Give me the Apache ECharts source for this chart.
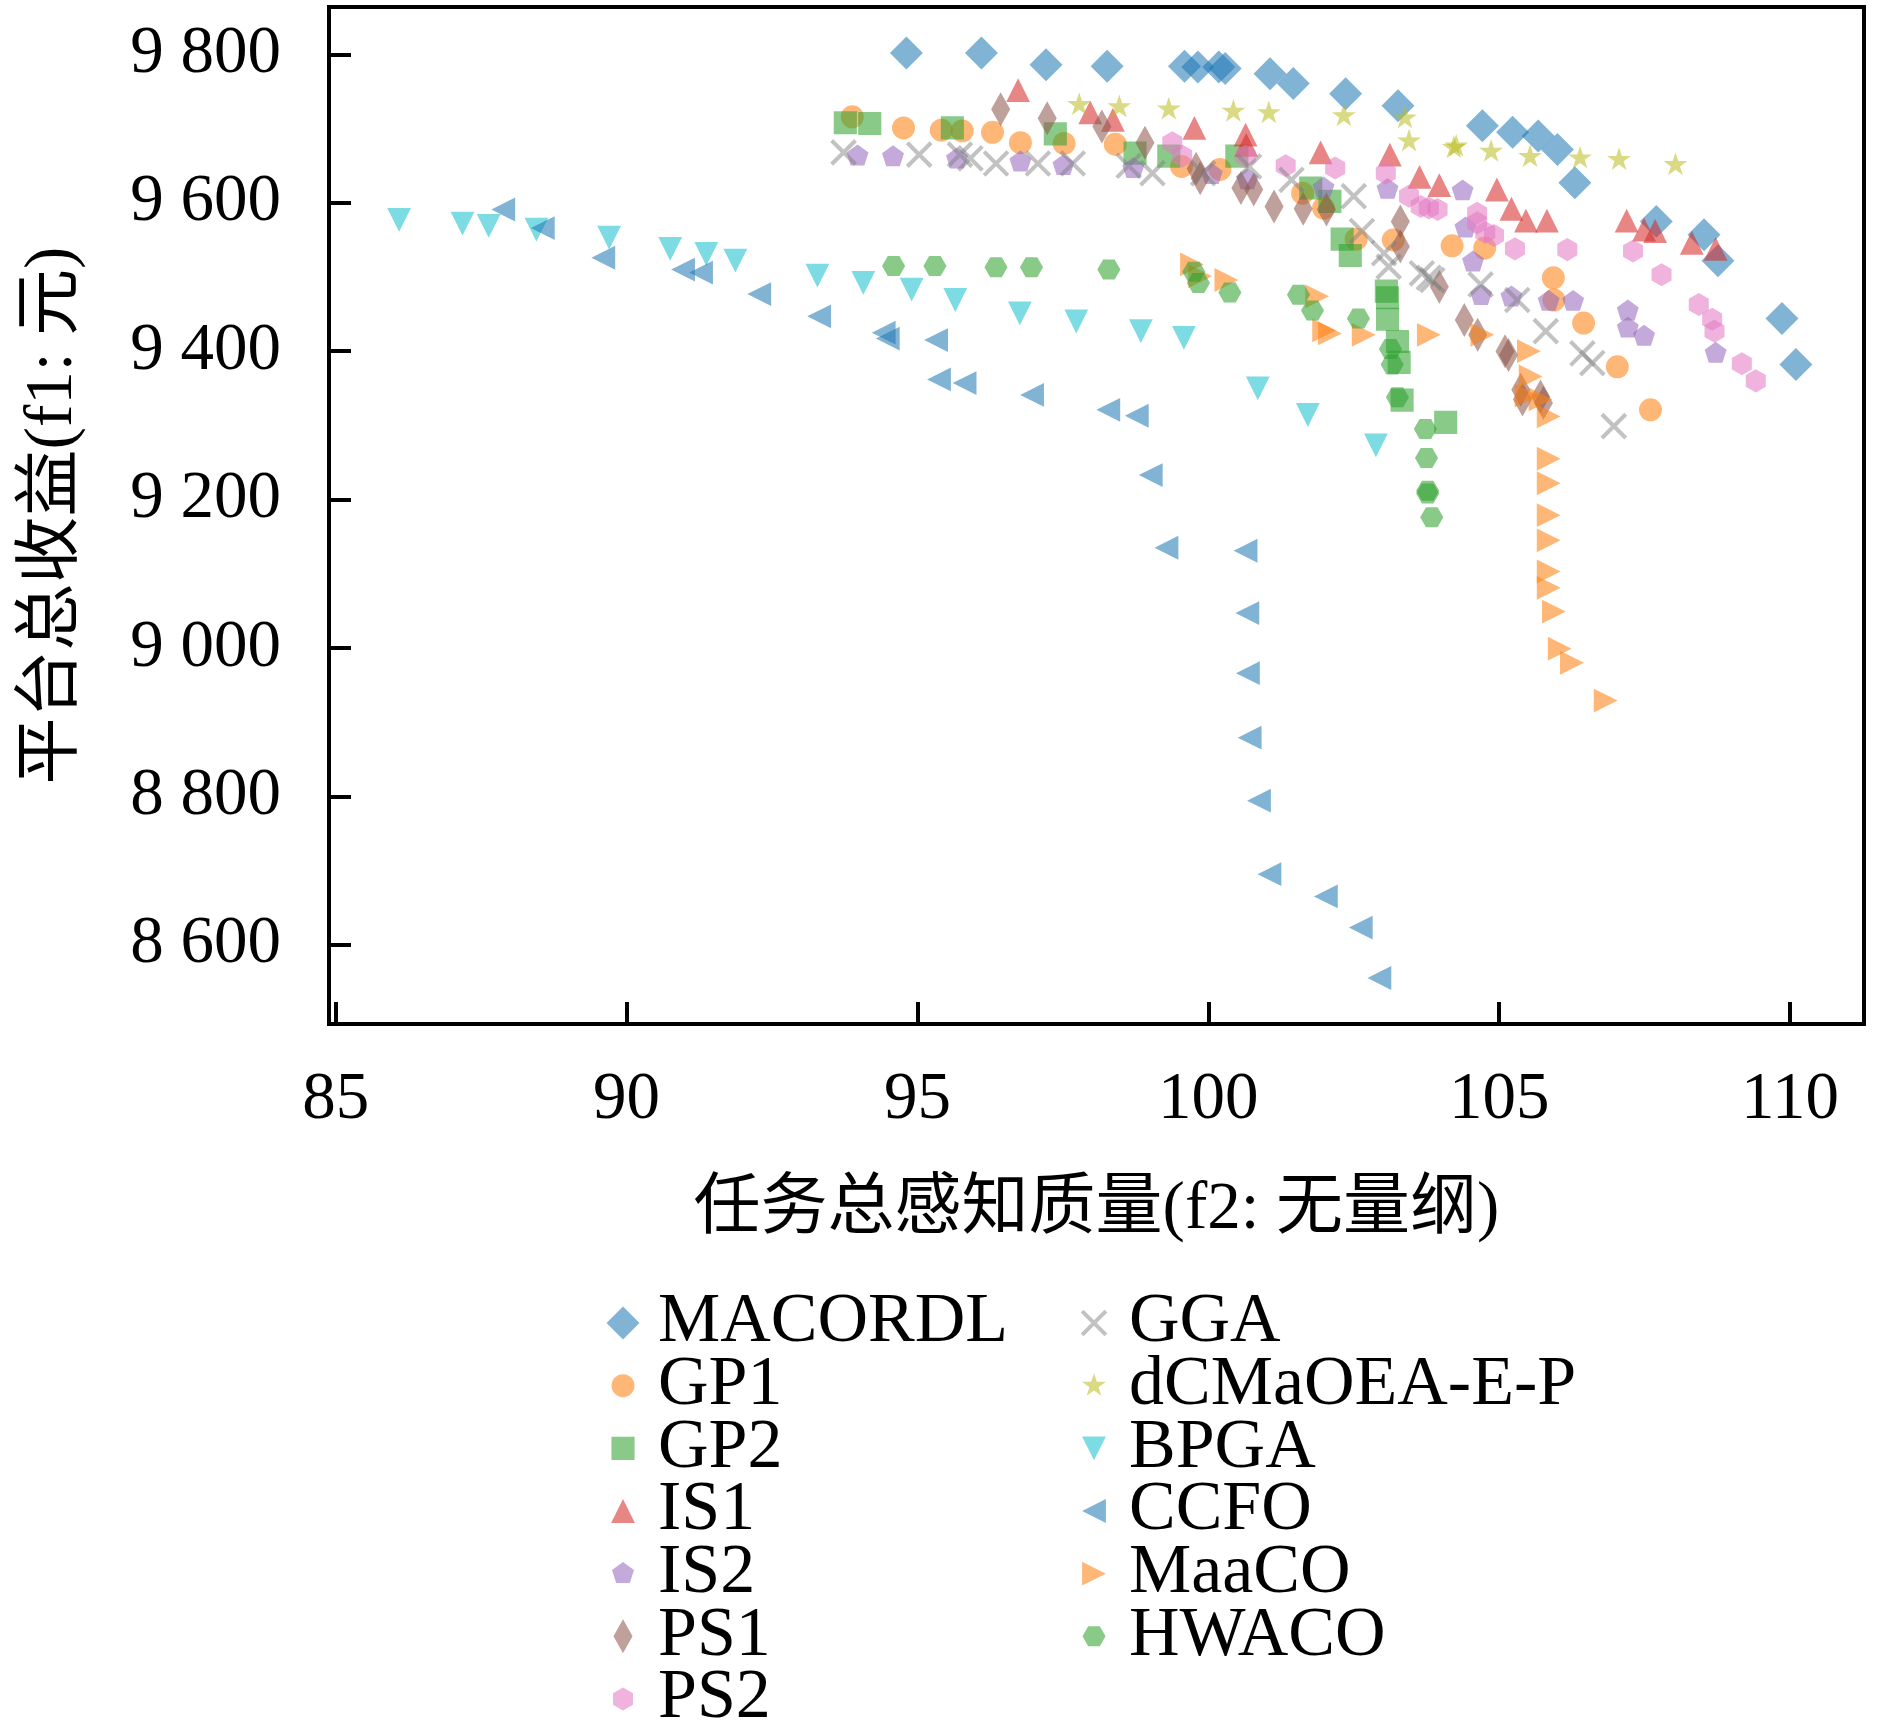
<!DOCTYPE html>
<html>
<head>
<meta charset="utf-8">
<script src="https://cdn.jsdelivr.net/npm/echarts@6/dist/echarts.min.js"></script>
<style>
  html, body { margin: 0; padding: 0; background: #fff; }
  #chart { width: 1890px; height: 1724px; }
</style>
</head>
<body>
<div id="chart"></div>
<script>
// tick values
const xTicks = [85, 90, 95, 100, 105, 110];
const yTicks = [8600, 8800, 9000, 9200, 9400, 9600, 9800];

// [f2, f1] per algorithm
const MACORDL = [[94.81,9802],[96.10,9802],[97.21,9786],[98.26,9784],[99.59,9784],[99.82,9783],[100.18,9783],[100.29,9781],[101.06,9774],[101.46,9761],[102.36,9747],[103.26,9731],[104.71,9704],[105.23,9695],[105.67,9690],[106.00,9672],[106.30,9627],[107.70,9575],[108.52,9557],[108.76,9522],[109.86,9444],[110.10,9382]];
const GP1 = [[93.88,9716],[94.76,9701],[95.41,9698],[95.77,9697],[96.29,9695],[96.77,9681],[97.52,9680],[98.40,9679],[99.54,9649],[100.20,9645],[101.62,9613],[101.98,9593],[102.54,9551],[103.18,9550],[104.19,9542],[104.75,9539],[105.93,9499],[105.94,9469],[106.45,9438],[107.03,9379],[107.60,9321]];
const GP2 = [[93.76,9708],[94.18,9707],[95.60,9701],[97.37,9693],[98.74,9667],[99.32,9663],[100.49,9663],[101.76,9620],[102.09,9602],[102.30,9551],[102.44,9529],[103.06,9481],[103.08,9472],[103.08,9443],[103.25,9413],[103.28,9385],[103.33,9334],[104.08,9304]];
const IS1 = [[96.73,9752],[97.97,9722],[98.36,9712],[99.76,9701],[100.64,9692],[100.65,9678],[101.93,9668],[103.12,9665],[103.63,9635],[103.97,9624],[104.96,9618],[105.21,9592],[105.46,9576],[105.82,9576],[107.19,9576],[107.49,9564],[107.68,9562],[108.31,9546],[108.72,9538]];
const IS2 = [[93.97,9663],[94.58,9662],[95.68,9659],[96.77,9655],[97.51,9650],[98.71,9646],[100.06,9638],[100.67,9631],[101.98,9620],[103.08,9618],[104.37,9616],[104.42,9566],[104.55,9520],[104.69,9475],[105.21,9473],[105.85,9467],[106.27,9467],[107.21,9454],[107.21,9431],[107.49,9420],[108.72,9397]];
const PS1 = [[96.43,9726],[97.23,9714],[98.17,9703],[98.91,9681],[99.79,9646],[99.86,9633],[100.56,9620],[100.78,9618],[101.13,9595],[101.63,9592],[102.03,9591],[103.30,9575],[103.30,9541],[103.97,9487],[104.40,9442],[104.63,9422],[105.10,9400],[105.16,9395],[105.37,9348],[105.40,9335],[105.71,9339],[105.76,9330]];
const PS2 = [[99.38,9681],[99.55,9663],[100.64,9663],[101.33,9650],[102.18,9647],[103.05,9640],[103.45,9609],[103.65,9595],[103.79,9593],[103.94,9591],[104.62,9586],[104.62,9573],[104.76,9560],[104.91,9556],[105.27,9538],[106.17,9537],[107.30,9535],[107.79,9503],[108.43,9463],[108.66,9443],[108.70,9427],[109.17,9383],[109.41,9360]];
const GGA = [[93.73,9668],[95.03,9665],[95.73,9665],[95.91,9660],[96.35,9653],[97.07,9653],[97.67,9653],[98.63,9650],[99.04,9640],[99.91,9640],[100.70,9649],[101.43,9631],[102.50,9609],[102.64,9562],[103.02,9532],[103.10,9514],[103.67,9505],[103.79,9499],[103.85,9496],[104.68,9490],[105.31,9469],[105.80,9427],[106.43,9397],[106.60,9384],[106.97,9299]];
const DCMAOEA = [[97.78,9732],[98.47,9729],[99.32,9726],[100.43,9723],[101.04,9721],[102.33,9717],[103.38,9714],[103.45,9683],[104.22,9674],[104.26,9676],[104.86,9669],[105.53,9662],[106.39,9660],[107.06,9658],[108.03,9651]];
const BPGA = [[86.09,9577],[87.18,9572],[87.63,9569],[88.45,9564],[89.70,9553],[90.75,9538],[91.37,9531],[91.87,9522],[93.28,9502],[94.07,9492],[94.90,9483],[95.65,9469],[96.76,9451],[97.73,9440],[98.84,9427],[99.58,9418],[100.85,9350],[101.71,9314],[102.88,9273]];
const CCFO = [[87.88,9591],[88.56,9566],[89.60,9526],[90.97,9510],[91.28,9506],[92.28,9477],[93.31,9447],[94.42,9425],[94.49,9417],[95.32,9415],[95.37,9362],[95.81,9357],[96.97,9341],[98.28,9321],[98.77,9313],[99.01,9233],[99.28,9135],[100.64,9131],[100.67,9047],[100.68,8966],[100.71,8879],[100.87,8794],[101.05,8695],[102.02,8665],[102.62,8623],[102.94,8555]];
const MaaCO = [[99.72,9517],[99.86,9501],[100.31,9496],[101.87,9474],[101.99,9428],[102.09,9424],[102.67,9422],[103.79,9422],[104.71,9422],[105.51,9400],[105.54,9366],[105.47,9340],[105.71,9335],[105.85,9312],[105.85,9255],[105.85,9222],[105.85,9179],[105.85,9145],[105.85,9103],[105.85,9081],[105.94,9049],[106.04,8999],[106.25,8980],[106.83,8929]];
const HWACO = [[94.59,9515],[95.30,9515],[96.35,9513],[96.96,9513],[98.29,9510],[99.75,9507],[99.83,9492],[100.37,9479],[101.55,9476],[101.79,9455],[102.58,9444],[103.13,9403],[103.16,9382],[103.25,9338],[103.73,9295],[103.75,9256],[103.77,9212],[103.77,9208],[103.84,9176]];

// marker outlines in a 100x100 box
function starBody() {
    let d = '';
    for (let k = 0; k < 10; k++) {
        const r = k % 2 ? 14.1 : 37;
        const a = (-90 + 36 * k) * Math.PI / 180;
        d += (k ? 'L' : 'M') + (50 + r * Math.cos(a)).toFixed(2) + ' ' + (50 + r * Math.sin(a)).toFixed(2);
    }
    return d + 'Z';
}
const shapes = {
    diamond: 'M50 1.5L98.5 50L50 98.5L1.5 50Z',
    circle: 'M16.2 50A33.8 33.8 0 1 1 83.8 50A33.8 33.8 0 1 1 16.2 50Z',
    square: 'M16 16L84 16L84 84L16 84Z',
    triUp: 'M50 15L85 85L15 85Z',
    pentagon: 'M50 16L82.3 39.5L70 77.5L30 77.5L17.7 39.5Z',
    thinDiamond: 'M50 0L78 50L50 100L22 50Z',
    hexPointy: 'M50 16L79.4 33L79.4 67L50 84L20.6 67L20.6 33Z',
    cross: 'M19.2 10.8L89.2 80.8L80.8 89.2L10.8 19.2Z M80.8 10.8L89.2 19.2L19.2 89.2L10.8 80.8Z',
    star: starBody(),
    triDown: 'M15 15L85 15L50 85Z',
    triLeft: 'M15 50L85 15L85 85Z',
    triRight: 'M85 50L15 15L15 85Z',
    hexFlat: 'M16 50L33 20.6L67 20.6L84 50L67 79.4L33 79.4Z'
};
// invisible anchors fix the box so every marker keeps its own size
function sym(body, w) {
    return 'path://' + body + ' M0 0L0.01 0L0.01 0.01Z M' + (w - 0.01) + ' 99.99L' + w + ' 99.99L' + w + ' 100Z';
}

const groups = [
    ['MACORDL', MACORDL, 'diamond', 'rgba(31,119,180,0.7)'],
    ['GP1', GP1, 'circle', 'rgba(255,127,14,0.7)'],
    ['GP2', GP2, 'square', 'rgba(44,160,44,0.7)'],
    ['IS1', IS1, 'triUp', 'rgba(214,39,40,0.7)'],
    ['IS2', IS2, 'pentagon', 'rgba(148,103,189,0.7)'],
    ['PS1', PS1, 'thinDiamond', 'rgba(140,86,75,0.7)'],
    ['PS2', PS2, 'hexPointy', 'rgba(227,119,194,0.7)'],
    ['GGA', GGA, 'cross', 'rgba(127,127,127,0.6)'],
    ['dCMaOEA-E-P', DCMAOEA, 'star', 'rgba(188,189,34,0.7)'],
    ['BPGA', BPGA, 'triDown', 'rgba(23,190,207,0.7)'],
    ['CCFO', CCFO, 'triLeft', 'rgba(31,119,180,0.7)'],
    ['MaaCO', MaaCO, 'triRight', 'rgba(255,127,14,0.7)'],
    ['HWACO', HWACO, 'hexFlat', 'rgba(44,160,44,0.7)']
];

const serif = "'Liberation Serif', 'Noto Sans CJK SC', serif";
const legendText = {fontSize: 70, fontFamily: serif, color: '#000'};

function legendBlock(items, left) {
    return {
        orient: 'vertical',
        left: left,
        top: 1288,
        height: 700,
        padding: 0,
        itemWidth: 47,
        itemHeight: 34,
        itemGap: -7.33,
        selectedMode: false,
        textStyle: legendText,
        data: items.map(g => ({name: g[0], icon: sym(shapes[g[2]], 138)}))
    };
}

const chart = echarts.init(document.getElementById('chart'));
chart.setOption({
    backgroundColor: '#fff',
    animation: false,
    grid: {left: 329, right: 26, top: 7, bottom: 700, show: true, borderColor: '#000', borderWidth: 4},
    legend: [legendBlock(groups.slice(0, 7), 606), legendBlock(groups.slice(7), 1077)],
    xAxis: {
        type: 'value',
        min: 84.885,
        max: 111.27,
        name: '任务总感知质量(f2: 无量纲)',
        nameLocation: 'middle',
        nameGap: 153,
        nameTextStyle: {fontSize: 67, fontFamily: serif, color: '#000'},
        axisLine: {show: true, lineStyle: {color: '#000', width: 4}},
        axisTick: {show: true, inside: true, length: 22, customValues: xTicks, lineStyle: {color: '#000', width: 4}},
        axisLabel: {customValues: xTicks, margin: 43, fontSize: 67, fontFamily: serif, color: '#000'},
        splitLine: {show: false}
    },
    yAxis: {
        type: 'value',
        min: 8493,
        max: 9864,
        name: '平台总收益(f1: 元)',
        nameLocation: 'middle',
        nameGap: 242,
        nameTextStyle: {fontSize: 67, fontFamily: serif, color: '#000'},
        axisLine: {show: true, lineStyle: {color: '#000', width: 4}},
        axisTick: {show: true, inside: true, length: 22, customValues: yTicks, lineStyle: {color: '#000', width: 4}},
        axisLabel: {
            customValues: yTicks,
            margin: 48,
            fontSize: 67,
            fontFamily: serif,
            color: '#000',
            formatter: v => String(v).replace(/\B(?=(\d{3})+(?!\d))/g, ' ')
        },
        splitLine: {show: false}
    },
    series: groups.map(g => ({
        name: g[0],
        type: 'scatter',
        data: g[1],
        symbol: sym(shapes[g[2]], 100),
        symbolSize: 34,
        itemStyle: {color: g[3]},
        emphasis: {disabled: true}
    }))
});
</script>
</body>
</html>
